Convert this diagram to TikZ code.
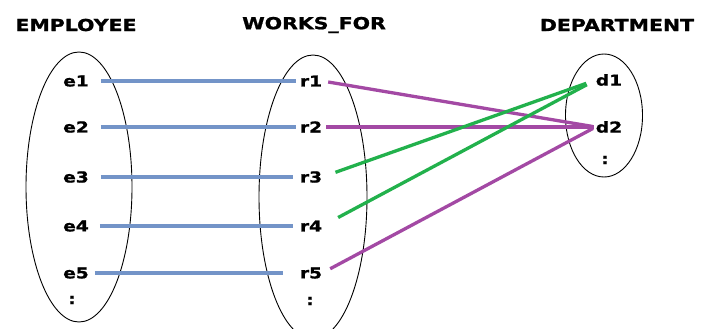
\documentclass[tikz,border=0pt]{standalone}
\usepackage{fontspec}
\newfontfamily\lblfont[UprightFont={* Bold},FakeStretch=1.24,FakeBold=1.2]{DejaVu Sans}
\definecolor{linkblue}{HTML}{7394C8}
\definecolor{linkpurple}{HTML}{A349A4}
\definecolor{linkgreen}{HTML}{22B14C}
\begin{document}
\begin{tikzpicture}[x=1pt,y=-1pt,
  head/.style={inner sep=0pt,font=\lblfont\fontsize{16.5}{18}\selectfont},
  item/.style={inner sep=0pt,font=\lblfont\fontsize{15}{17}\selectfont},
  setshape/.style={draw=black,line width=0.9pt},
  bluelink/.style={draw=linkblue,line width=3.6pt},
  purplelink/.style={draw=linkpurple,line width=3.3pt},
  greenlink/.style={draw=linkgreen,line width=3.3pt}]
\useasboundingbox (0,0) rectangle (702,329);
\fill[white] (0,0) rectangle (702,329);
\begin{scope}
\clip (0,0) rectangle (702,329);
% sets
\draw[setshape] (79,187) ellipse [x radius=53, y radius=135];
\draw[setshape] (313,197) ellipse [x radius=54, y radius=142];
\draw[setshape] (604,115.5) ellipse [x radius=38.5, y radius=61.5];
\end{scope}
% headers
\node[head] (hemp) at (76,25) {EMPLOYEE};
\node[head] (hwf) at (314,25) {WORKS\_FOR};
\node[head] (hdep) at (617,25) {DEPARTMENT};
% employees
\node[item] (e1) at (76,81) {e1};
\node[item] (e2) at (76,127) {e2};
\node[item] (e3) at (76,177) {e3};
\node[item] (e4) at (76,226) {e4};
\node[item] (e5) at (76,273) {e5};
\node[item] (ed) at (72,300) {:};
% relationship instances
\node[item] (r1) at (311,81) {r1};
\node[item] (r2) at (311,127) {r2};
\node[item] (r3) at (311,177) {r3};
\node[item] (r4) at (311,226) {r4};
\node[item] (r5) at (311,273) {r5};
\node[item] (rd) at (310,301) {:};
% departments
\node[item] (d1) at (609,80) {d1};
\node[item] (d2) at (609,127) {d2};
\node[item] (dd) at (605,160) {:};
% employee links
\draw[bluelink,shorten <=12pt,shorten >=4pt] (e1.east) -- (r1.west);
\draw[bluelink,shorten <=12pt,shorten >=4pt] (e2.east) -- (r2.west);
\draw[bluelink,shorten <=12pt,shorten >=7pt] (e3.east) -- (r3.west);
\draw[bluelink,shorten <=11pt,shorten >=7pt] (e4.east) -- (r4.west);
\draw[bluelink,shorten <=6pt,shorten >=17pt] (e5.east) -- (r5.west);
% department links
\draw[purplelink,shorten <=6pt,shorten >=3pt] (r1.east) -- (d2.west);
\draw[purplelink,shorten <=4pt,shorten >=2pt] (r2.east) -- (d2.west);
\draw[greenlink,shorten <=14pt,shorten >=10pt] (r3.east) -- (d1.west);
\draw[greenlink,shorten <=18pt,shorten >=10pt] (r4.east) -- (d1.west);
\draw[purplelink,shorten <=9pt,shorten >=3pt] (r5.east) -- (d2.west);
\end{tikzpicture}
\end{document}
